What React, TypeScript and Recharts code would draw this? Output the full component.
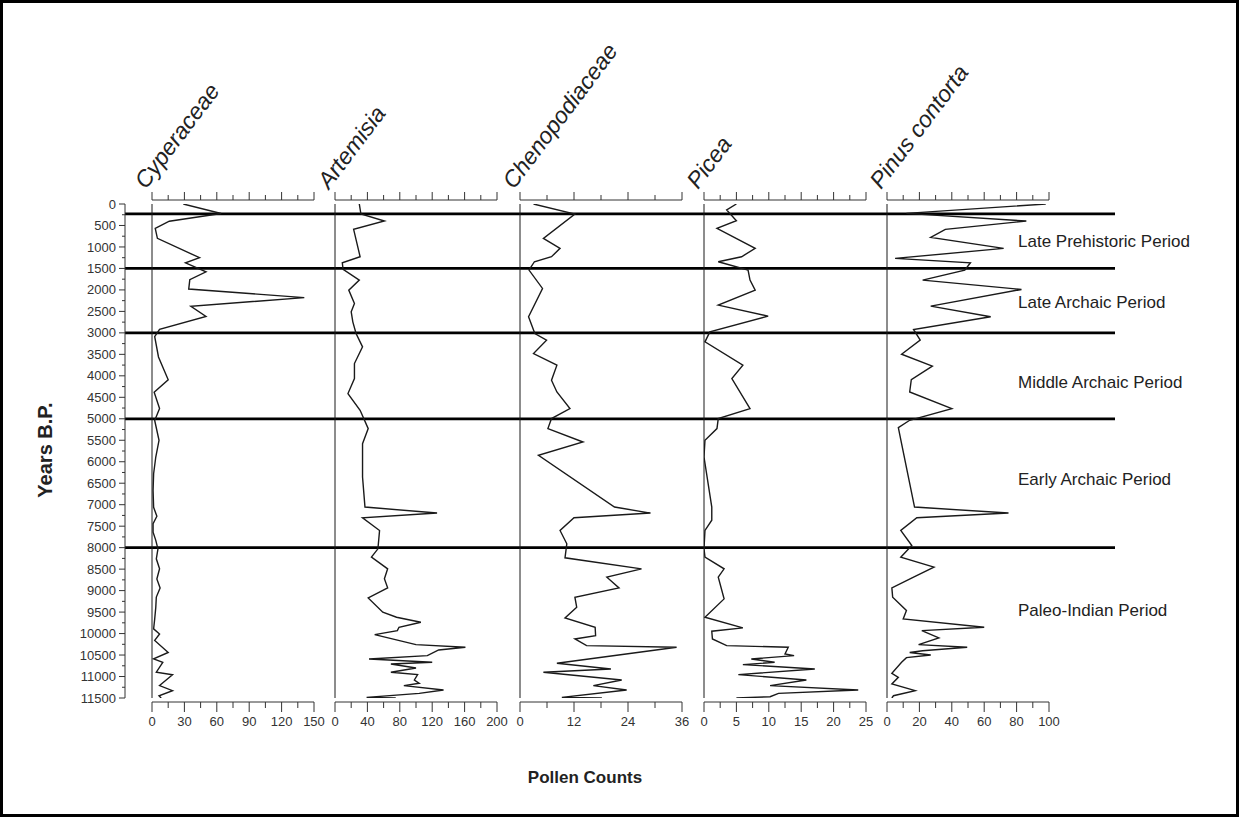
import React from "react";
import { LineChart, Line, XAxis, YAxis, ReferenceLine } from "recharts";

const FONT = '"Liberation Sans", Arial, Helvetica, sans-serif';
const AXIS = "#333";
const INK = "#1a1a1a";

// [years B.P., pollen count]
const cyperaceae: [number, number][] = [
  [0, 29], [220, 64], [400, 16], [570, 3], [800, 5], [1250, 44], [1370, 31], [1580, 50], [1760, 35], [1980, 34],
  [2180, 141], [2380, 36], [2620, 50], [2920, 7], [3090, 2.5], [3560, 6], [4090, 15], [4380, 2], [4760, 7], [5040, 2.5],
  [5500, 6.5], [5890, 3.5], [6280, 1.5], [6670, 1], [7060, 1.5], [7270, 4.5], [7440, 1], [7640, 1], [7830, 3.5], [8030, 5.5],
  [8260, 4], [8490, 7], [8730, 4.5], [8940, 7.5], [9150, 4], [9390, 3.5], [9660, 2.5], [9890, 1.5], [10010, 7], [10160, 2.5],
  [10440, 15], [10590, 1.5], [10670, 10], [10900, 4], [10960, 19], [11210, 7], [11330, 19], [11450, 6.5], [11500, 8.5],
];

const artemisia: [number, number][] = [
  [0, 30], [233, 32], [396, 61], [590, 23], [1228, 31], [1368, 9], [1523, 10], [1772, 30], [2005, 17], [2315, 24],
  [2510, 20], [2743, 22], [3015, 26], [3326, 34], [3714, 24], [4064, 24], [4413, 16], [4802, 31], [5229, 41], [5579, 34],
  [6356, 34], [7055, 37], [7195, 126], [7304, 34], [7600, 55], [8027, 53], [8221, 45], [8493, 65], [8726, 61], [8936, 65],
  [9170, 41], [9503, 59], [9620, 76], [9737, 106], [9853, 79], [9931, 77], [10024, 49], [10257, 100], [10319, 161], [10381, 128],
  [10514, 114], [10591, 42], [10669, 120], [10708, 69], [10801, 100], [10902, 69], [10956, 102], [11080, 98], [11158, 104], [11213, 85],
  [11314, 134], [11392, 104], [11485, 39], [11500, 75],
];

const chenopodiaceae: [number, number][] = [
  [0, 3], [233, 12.2], [800, 5.2], [1033, 8.9], [1228, 7], [1344, 3.2], [1538, 2], [1966, 5], [2626, 1.9], [3015, 3.3],
  [3170, 5.9], [3481, 3], [3753, 8.2], [4103, 7], [4375, 8.2], [4763, 11.1], [4996, 7], [5229, 6.2], [5540, 14], [5851, 4.1],
  [7055, 21], [7195, 29], [7304, 12], [7600, 8.9], [7910, 10.4], [8236, 10], [8493, 27], [8687, 19.3], [8936, 22], [9154, 12.2],
  [9387, 12.6], [9635, 10], [9853, 16.7], [10047, 16.8], [10125, 12.2], [10280, 14.8], [10319, 34.8], [10692, 8.2], [10824, 20.2], [10902, 5.2],
  [11080, 22.6], [11213, 16.3], [11314, 23.7], [11485, 9.3], [11500, 18.2],
];

const picea: [number, number][] = [
  [0, 5], [140, 3.5], [389, 5], [567, 2], [1033, 7.9], [1228, 5.8], [1344, 2.2], [1538, 6.8], [1772, 7.1], [2005, 7.9],
  [2354, 2.2], [2611, 9.9], [2976, 0.9], [3209, 0.15], [3753, 6], [4064, 4.3], [4763, 7.1], [4996, 2.2], [5229, 2], [5501, 0.15],
  [5890, 0], [7055, 1.2], [7362, 1.2], [7600, 0.15], [8027, 0], [8221, 0.15], [8493, 3.1], [8687, 2.2], [9193, 3.1], [9620, 0.15],
  [9868, 6], [9946, 1.2], [10125, 1.3], [10280, 3.5], [10319, 13], [10474, 12.5], [10514, 13.9], [10591, 7.3], [10669, 10.9], [10723, 6],
  [10824, 17.1], [10956, 5.3], [11080, 15.8], [11213, 10.2], [11314, 23.8], [11392, 11.5], [11470, 10.2], [11500, 5],
];

const pinusContorta: [number, number][] = [
  [0, 98], [218, 12], [396, 86], [590, 36], [777, 27], [1033, 72], [1267, 5], [1368, 51.5], [1538, 48], [1772, 22],
  [1989, 83], [2378, 27], [2626, 64], [2921, 16.4], [3170, 20.5], [3497, 9], [3776, 28], [4087, 15], [4375, 14], [4763, 40],
  [5035, 14], [5206, 7], [5579, 9], [7055, 17], [7195, 75], [7304, 18.4], [7600, 8.5], [7949, 15.3], [8221, 8.5], [8454, 29],
  [8687, 16.4], [8936, 3], [9154, 3.5], [9464, 12], [9659, 10], [9853, 60], [9931, 21.5], [10102, 32], [10257, 19.5], [10319, 49.5],
  [10400, 22], [10440, 14], [10500, 27], [10560, 12], [10669, 9], [10925, 3], [11018, 7], [11173, 3], [11330, 17.4], [11447, 4],
  [11500, 3],
];

const yearTicks = Array.from({ length: 47 }, (_, i) => i * 250);
const periodBounds = [230, 1500, 3000, 5000, 8000];
const periodNames = ["Late Prehistoric Period", "Late Archaic Period", "Middle Archaic Period", "Early Archaic Period", "Paleo-Indian Period"];

const panels = [
  { name: "Cyperaceae", series: cyperaceae, max: 150, step: 15, major: 30, left: 152 },
  { name: "Artemisia", series: artemisia, max: 200, step: 20, major: 40, left: 335 },
  { name: "Chenopodiaceae", series: chenopodiaceae, max: 36, step: 6, major: 12, left: 520 },
  { name: "Picea", series: picea, max: 25, step: 2.5, major: 5, left: 704 },
  { name: "Pinus contorta", series: pinusContorta, max: 100, step: 10, major: 20, left: 887 },
];

const W = 1239;
const H = 817;
const PANEL_W = 162;
const PAD = 24;

const isMajor = (v: number, major: number) => Math.abs(v / major - Math.round(v / major)) < 1e-6;

const topTick = (major: number) => (p: any) => (
  <line x1={p.x} x2={p.x} y1={p.y} y2={p.y - (isMajor(p.payload.value, major) ? 8 : 5)} stroke={AXIS} strokeWidth={1} />
);

const bottomTick = (major: number) => (p: any) => {
  const m = isMajor(p.payload.value, major);
  return (
    <g>
      <line x1={p.x} x2={p.x} y1={p.y} y2={p.y + (m ? 10 : 6)} stroke={AXIS} strokeWidth={1} />
      {m && (
        <text x={p.x} y={p.y + 24} textAnchor="middle" fontFamily={FONT} fontSize={13} fill="#333">
          {p.payload.value}
        </text>
      )}
    </g>
  );
};

const yTick = (p: any) => {
  const m = p.payload.value % 500 === 0;
  return (
    <g>
      <line x1={p.x} x2={p.x - (m ? 6 : 3)} y1={p.y} y2={p.y} stroke={AXIS} strokeWidth={1} />
      {m && (
        <text x={p.x - 9} y={p.y} dy="0.35em" textAnchor="end" fontFamily={FONT} fontSize={13} fill="#333">
          {p.payload.value}
        </text>
      )}
    </g>
  );
};

function Panel({ series, max, step, major, left }: any) {
  const data = series.map(([year, count]: [number, number]) => ({ year, count }));
  const ticks: number[] = [];
  for (let v = 0; v <= max + 1e-9; v += step) ticks.push(+v.toFixed(2));
  return (
    <div style={{ position: "absolute", left: left - PAD, top: 0 }}>
      <LineChart layout="vertical" width={PANEL_W + 2 * PAD} height={H} data={data}
        margin={{ top: 180, right: PAD, bottom: 75, left: PAD }}>
        <XAxis xAxisId="top" orientation="top" type="number" domain={[0, max]} ticks={ticks} interval={0}
          height={20} tickSize={0} tickMargin={0} tickLine={false} axisLine={{ stroke: AXIS }} tick={topTick(major)} allowDataOverflow />
        <XAxis xAxisId="bottom" orientation="bottom" type="number" domain={[0, max]} ticks={ticks} interval={0}
          height={40} tickSize={0} tickMargin={0} tickLine={false} axisLine={{ stroke: AXIS }} tick={bottomTick(major)} allowDataOverflow />
        <YAxis type="number" dataKey="year" domain={[0, 11500]} hide padding={{ top: 4, bottom: 4 }} allowDataOverflow />
        <ReferenceLine xAxisId="bottom" segment={[{ x: 0, y: 0 }, { x: 0, y: 11500 }]} stroke={INK} strokeWidth={1} />
        <Line xAxisId="bottom" type="linear" dataKey="count" stroke={INK} strokeWidth={1.4} dot={false} isAnimationActive={false} />
      </LineChart>
    </div>
  );
}

export default function App() {
  const baseData = yearTicks.map((year) => ({ year, v: 0 }));
  const labelY = [241, 302, 382, 479, 610];
  return (
    <div style={{ position: "absolute", left: 0, top: 0, width: W, height: H, background: "#fff", fontFamily: FONT }}>
      <div style={{ position: "absolute", left: 0, top: 0 }}>
        <LineChart layout="vertical" width={W} height={H} data={baseData}
          margin={{ top: 204, right: 124, bottom: 119, left: 65 }}>
          <XAxis type="number" domain={[0, 1]} hide allowDataOverflow />
          <YAxis type="number" dataKey="year" domain={[0, 11500]} ticks={yearTicks} interval={0} width={60}
            tickSize={0} tickMargin={0} tickLine={false} axisLine={{ stroke: AXIS }} tick={yTick} />
          <Line type="linear" dataKey="v" stroke="none" dot={false} isAnimationActive={false} />
          {periodBounds.map((b) => (
            <ReferenceLine key={b} y={b} ifOverflow="visible" stroke="#000" strokeWidth={2.8} />
          ))}
        </LineChart>
      </div>
      {panels.map((p) => (
        <Panel key={p.name} {...p} />
      ))}
      <svg width={W} height={H} style={{ position: "absolute", left: 0, top: 0, pointerEvents: "none" }}>
        {panels.map((p) => (
          <text key={p.name} transform={`translate(${p.left - 6},${190}) rotate(-53)`} fontFamily={FONT}
            fontStyle="italic" fontSize={23} fill="#222">
            {p.name}
          </text>
        ))}
        {periodNames.map((n, i) => (
          <text key={n} x={1018} y={labelY[i]} dy="0.35em" fontFamily={FONT} fontSize={17} fill="#222">
            {n}
          </text>
        ))}
        <text transform="translate(52,450) rotate(-90)" textAnchor="middle" fontFamily={FONT} fontWeight="bold" fontSize={20} fill="#222">
          Years B.P.
        </text>
        <text x={585} y={783} textAnchor="middle" fontFamily={FONT} fontWeight="bold" fontSize={17} fill="#222">
          Pollen Counts
        </text>
      </svg>
      <div style={{ position: "absolute", left: 0, top: 0, width: W, height: H, border: "3px solid #000", boxSizing: "border-box", pointerEvents: "none" }} />
    </div>
  );
}
